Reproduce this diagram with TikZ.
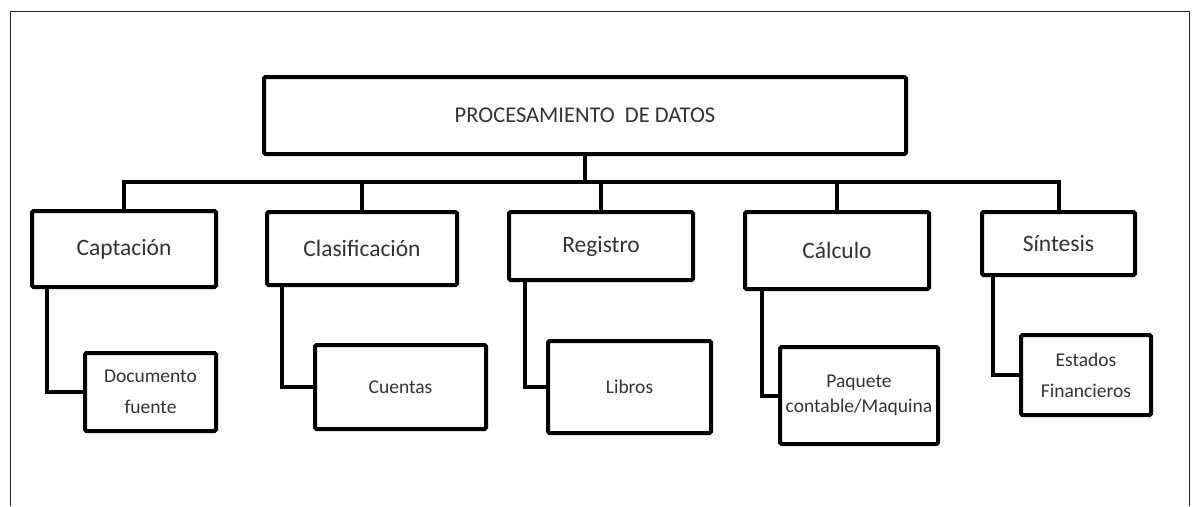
\documentclass[tikz,border=0pt]{standalone}
\usepackage{fontspec}
\setmainfont{Carlito}
\begin{document}
\begin{tikzpicture}[x=1pt,y=-1pt,
  box/.style={draw=black,line width=4pt,rounded corners=1.5pt,inner sep=0pt,text=black!80,align=center},
  top/.style={box,font=\fontsize{22.5}{26}\selectfont},
  lvone/.style={box,font=\fontsize{23.5}{27}\selectfont},
  lvtwo/.style={box,font=\fontsize{19.5}{31}\selectfont},
  conn/.style={draw=black,line width=4pt,line join=miter}]
\fill[white] (0,0) rectangle (1194,506);
\useasboundingbox (0,0) rectangle (1194,506);
\draw[line width=1pt,black!85] (10,506) -- (10,11) -- (1189,11) -- (1189,506);

\node[top,minimum width=642pt,minimum height=77pt] (main) at (585,115.5) {PROCESAMIENTO\ \ DE DATOS};

\node[lvone,minimum width=184pt,minimum height=76pt] (cap) at (124,249) {Captación};
\node[lvone,minimum width=190pt,minimum height=73pt] (clas) at (362,248.5) {Clasificación};
\node[lvone,minimum width=184pt,minimum height=68pt] (reg) at (601,246) {Registro};
\node[lvone,minimum width=184pt,minimum height=77pt] (calc) at (837,250.5) {Cálculo};
\node[lvone,minimum width=153pt,minimum height=63pt] (sin) at (1058.5,243.5) {Síntesis};

\node[lvtwo,minimum width=131pt,minimum height=78pt] (doc) at (150.5,392) {Documento\\fuente};
\node[lvtwo,minimum width=171pt,minimum height=84pt] (cue) at (400.5,387) {Cuentas};
\node[lvtwo,minimum width=163pt,minimum height=92pt] (lib) at (629.5,387) {Libros};
\node[lvtwo,minimum width=158pt,minimum height=97pt,font=\fontsize{19.5}{25}\selectfont] (paq) at (859,395.5) {Paquete\\contable/Maquina};
\node[lvtwo,minimum width=130pt,minimum height=80pt] (est) at (1086,375) {Estados\\Financieros};

\coordinate (bus) at (585,182);
\draw[conn] (main.south) -- (bus);
\draw[conn] (cap.north) |- (bus) -| (sin.north);
\draw[conn] (clas.north) -- (clas.north |- bus);
\draw[conn] (reg.north) -- (reg.north |- bus);
\draw[conn] (calc.north) -- (calc.north |- bus);

\draw[conn] ([xshift=17pt]cap.south west) |- (doc.west);
\draw[conn] ([xshift=17pt]clas.south west) |- (cue.west);
\draw[conn] ([xshift=18pt]reg.south west) |- (lib.west);
\draw[conn] ([xshift=19pt]calc.south west) |- (paq.west);
\draw[conn] ([xshift=13pt]sin.south west) |- (est.west);
\end{tikzpicture}
\end{document}
